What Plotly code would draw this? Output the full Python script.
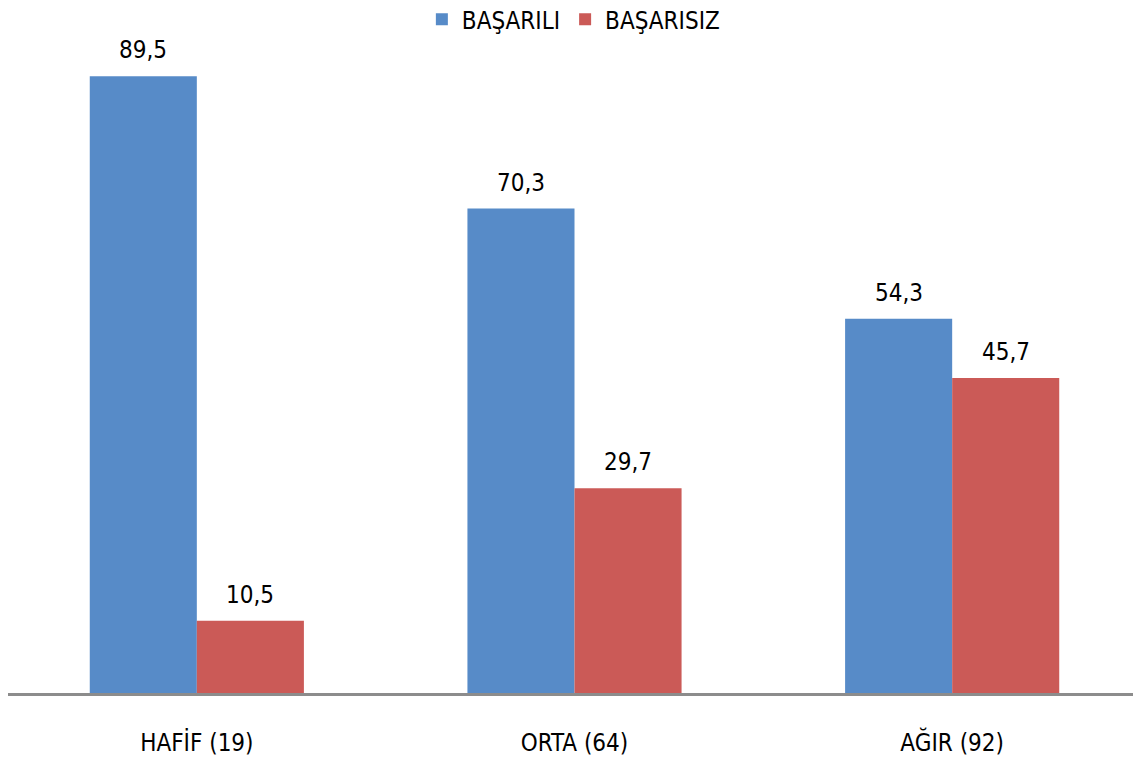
import plotly.graph_objects as go

categories = ["HAFİF (19)", "ORTA (64)", "AĞIR (92)"]
basarili = [89.5, 70.3, 54.3]
basarisiz = [10.5, 29.7, 45.7]

FONT = "DejaVu Sans Condensed, DejaVu Sans"
BLUE = "#578BC8"
RED = "#CB5A57"
BARGAP = 0.433


def fmt(v):
    return f"{v:.1f}".replace(".", ",")


xs = list(range(len(categories)))
half = (1 - BARGAP) / 4  # offset of each bar centre from group centre

fig = go.Figure()
fig.add_trace(go.Bar(x=xs, y=basarili, name="BAŞARILI", marker_color=BLUE))
fig.add_trace(go.Bar(x=xs, y=basarisiz, name="BAŞARISIZ", marker_color=RED))
fig.update_traces(marker_line_width=0)

# value labels a little above each bar
for series, sign in ((basarili, -1), (basarisiz, 1)):
    for i, v in zip(xs, series):
        fig.add_annotation(x=i + sign * half, y=v, text=fmt(v), showarrow=False,
                           yanchor="bottom", yshift=10,
                           font=dict(size=24, color="black"))

fig.update_layout(
    width=1133, height=755,
    margin=dict(l=0, r=0, t=0, b=70, autoexpand=False),
    plot_bgcolor="white", paper_bgcolor="white",
    font=dict(family=FONT, size=24, color="black"),
    barmode="group", bargap=BARGAP, bargroupgap=0,
    showlegend=True,
    legend=dict(orientation="h", x=0.499, xanchor="center", y=1.016, yanchor="top",
                font=dict(size=24), bgcolor="rgba(0,0,0,0)"),
    xaxis=dict(range=[-0.5, 2.5], tickvals=xs, ticktext=categories,
               showline=True, linecolor="#8C8C8C", linewidth=3,
               ticks="outside", ticklen=26, tickcolor="rgba(0,0,0,0)",
               showgrid=False, zeroline=False, automargin=False,
               tickfont=dict(size=24)),
    yaxis=dict(range=[0, 99.4], visible=False, showgrid=False, automargin=False),
)

fig.write_html("out.html")
